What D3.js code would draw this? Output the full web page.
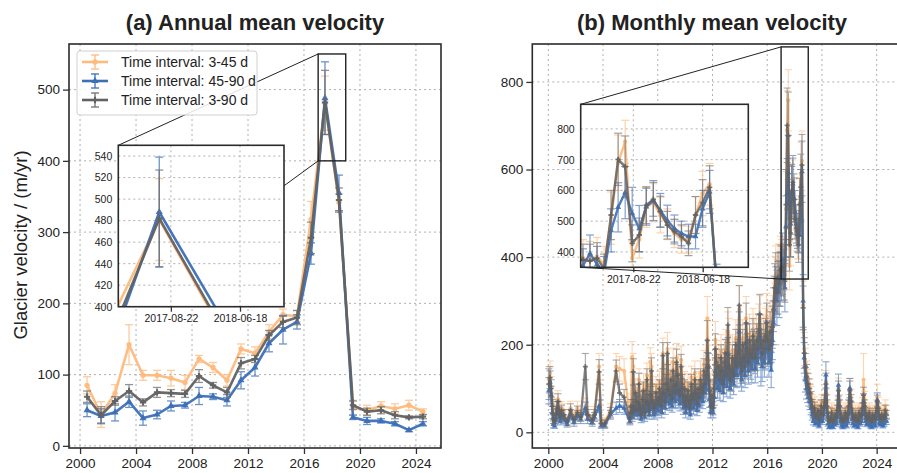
<!DOCTYPE html>
<html><head><meta charset="utf-8">
<script src="https://cdn.jsdelivr.net/npm/d3@7"></script>
<style>
body{margin:0;background:#fff}
svg{display:block}
text{font-family:"Liberation Sans",Arial,sans-serif;fill:#222}
</style></head>
<body><svg id="c" width="897" height="473"></svg>
<script>
// ---------- DATA ----------
const seriesNames = ["Time interval: 3-45 d","Time interval: 45-90 d","Time interval: 3-90 d"];
const xTickYears = [2000,2004,2008,2012,2016,2020,2024];
const yTicksAnnual = [0,100,200,300,400,500];
const yTicksMonthly = [0,200,400,600,800];
const insetAYTicks = [400,420,440,460,480,500,520,540];
const insetBYTicks = [400,500,600,700,800];
const insetXTickLabels = ["2017-08-22","2018-06-18"];
const insetXTickYears = [2017.638, 2018.460];

const annualYears = [2000.5,2001.5,2002.5,2003.5,2004.5,2005.5,2006.5,2007.5,2008.5,2009.5,2010.5,2011.5,2012.5,2013.5,2014.5,2015.5,2016.5,2017.5,2018.5,2019.5,2020.5,2021.5,2022.5,2023.5,2024.5];
const annual345  = [85,44,74,142,99,99,95,89,122,110,92,136,130,160,184,182,318,481,342,54,50,56,52,57,48];
const annual4590 = [50,42,47,62,39,44,56,57,70,69,64,92,110,144,163,174,270,488,355,40,35,35,31,22,31];
const annual390  = [69,43,63,77,61,75,74,73,98,85,75,116,122,155,174,180,292,482,345,57,48,50,43,40,41];
const annualErr345  = [12,18,12,28,7,7,11,10,5,7,8,7,9,10,8,8,25,38,12,10,7,6,7,7,4];
const annualErr4590 = [9,10,12,8,10,6,7,4,12,4,8,12,12,12,20,10,15,51,25,3,5,3,3,2,3];
const annualErr390  = [8,12,6,9,5,7,5,5,9,4,7,8,5,7,8,10,22,45,17,6,5,5,5,2,3];

// monthly values, Jan 2000 ... Sep 2024 (null = no estimate that month)
const monthlyStartYear = 2000;
const monthly345 = [
 120,135,105,70,40,30,50,60,75,55,40,55,
 null,50,null,null,22,null,null,55,null,null,35,null,
 null,55,null,null,40,null,null,null,60,null,45,null,
 null,null,30,null,45,null,null,null,150,null,25,null,
 null,25,null,null,null,null,50,null,null,null,null,150,
 null,null,145,null,null,null,140,null,null,null,null,35,
 70,172,150,60,100,80,60,120,65,50,90,110,
 55,85,130,80,60,161,150,85,65,75,105,90,
 80,115,95,75,180,105,85,125,190,110,100,135,
 90,160,120,105,169,145,110,100,165,125,85,115,
 75,95,110,85,70,125,100,90,135,105,80,115,
 95,135,115,105,155,125,145,260,165,110,75,100,
 70,115,211,175,145,165,135,185,155,125,175,195,
 145,230,218,135,155,185,145,175,215,165,195,280,
 175,155,215,185,165,260,205,175,225,195,185,235,
 215,185,225,205,245,260,215,195,225,205,235,265,
 240,210,250,230,260,300,340,360,335,365,350,380,
 380,372,385,360,510,690,758,380,440,545,560,520,
 490,460,440,440,520,590,620,290,190,160,135,118,
 110,100,85,70,55,65,45,50,60,40,55,70,
 50,65,80,115,70,45,35,40,55,35,40,50,
 45,60,100,70,50,40,35,45,55,40,50,70,
 98,80,55,45,40,50,40,35,55,45,50,65,
 120,75,50,40,45,55,40,35,50,45,40,60,
 80,65,45,40,50,40,45,60,50
];
const monthly4590 = [
 95,115,85,45,18,15,30,45,55,35,25,40,
 null,30,null,null,18,null,null,40,null,null,22,null,
 null,38,null,null,30,null,null,null,55,null,30,null,
 null,null,22,null,35,null,null,null,60,null,15,null,
 null,15,null,null,null,null,40,null,null,null,null,55,
 null,null,60,null,null,null,55,null,null,null,null,25,
 45,35,60,40,55,50,40,65,45,30,50,60,
 35,50,70,50,40,60,75,55,40,45,65,55,
 50,75,60,45,90,70,55,80,100,70,65,85,
 60,95,80,70,110,95,75,65,100,85,55,80,
 45,60,75,55,40,85,65,55,90,70,50,80,
 60,90,80,70,105,90,100,150,120,75,45,65,
 45,80,140,125,100,120,95,140,115,90,130,150,
 105,180,125,100,120,145,110,135,170,130,155,230,
 135,120,170,145,130,205,160,140,180,155,145,190,
 170,145,180,160,195,220,170,150,180,160,185,210,
 190,160,200,142,210,250,300,320,300,330,320,350,
 355,395,360,330,470,545,593,525,476,547,567,535,
 502,476,460,450,450,540,595,300,170,120,100,90,
 80,70,55,40,25,35,20,22,30,15,25,40,
 25,40,60,131,45,20,12,15,30,12,18,25,
 20,35,108,45,25,15,12,20,30,15,25,45,
 101,55,30,20,15,25,18,12,30,20,25,40,
 70,45,25,18,20,30,15,12,25,20,15,30,
 74,40,20,18,25,15,20,35,25
];
const monthly390 = [
 110,125,100,60,30,25,40,55,70,45,35,50,
 null,40,null,null,25,null,null,50,null,null,30,null,
 null,45,null,null,35,null,null,null,150,null,40,null,
 null,null,28,null,40,null,null,null,138,null,20,null,
 null,20,null,null,null,null,45,null,null,null,null,140,
 null,null,90,null,null,null,80,null,null,null,null,30,
 60,45,138,50,90,70,50,110,55,40,75,95,
 45,70,120,65,50,85,140,70,55,60,90,75,
 65,100,80,60,175,90,70,110,180,95,85,120,
 75,140,105,90,160,130,95,85,150,110,70,100,
 60,80,95,70,55,110,85,75,120,90,65,100,
 80,120,100,90,140,110,130,210,150,95,60,85,
 55,100,190,160,130,150,120,170,140,110,160,180,
 130,245,150,120,140,170,130,160,200,150,180,290,
 160,140,200,170,150,250,190,160,210,180,170,220,
 200,170,210,190,230,270,200,180,210,190,220,250,
 210,190,230,200,240,280,330,350,320,355,340,370,
 375,370,380,345,520,701,677,428,455,552,571,531,
 487,466,450,428,520,560,610,284,181,150,127,110,
 100,90,75,60,45,55,35,40,50,30,45,60,
 40,55,70,110,60,35,25,30,45,25,30,40,
 35,50,95,60,40,30,25,35,45,30,40,60,
 95,70,45,35,30,40,30,25,45,35,40,55,
 85,60,40,30,35,45,30,25,40,35,30,45,
 70,55,35,30,40,30,35,50,40
];
const monthlyErr345 = [
 30,28,22,18,12,10,14,16,20,15,12,15,
 null,15,null,null,8,null,null,16,null,null,12,null,
 null,16,null,null,12,null,null,null,18,null,14,null,
 null,null,10,null,14,null,null,null,30,null,8,null,
 null,8,null,null,null,null,15,null,null,null,null,30,
 null,null,28,null,null,null,28,null,null,null,null,12,
 18,35,30,15,22,18,15,25,16,12,20,24,
 15,20,28,18,15,32,30,20,16,18,22,20,
 18,24,20,18,35,22,18,26,38,24,22,28,
 20,32,25,22,34,30,24,22,32,26,20,24,
 18,20,24,18,16,26,22,20,28,22,18,24,
 20,28,24,22,32,26,30,50,34,24,18,22,
 16,24,42,35,30,34,28,38,32,26,36,40,
 30,45,42,28,32,38,30,36,42,34,40,55,
 35,32,42,38,34,50,42,36,45,40,38,48,
 42,38,45,42,48,52,44,40,45,42,48,52,
 48,42,50,46,52,58,62,66,60,65,62,68,
 60,62,62,58,85,90,70,55,60,65,62,58,
 50,46,44,44,60,72,68,55,38,32,28,26,
 24,22,20,16,14,16,12,12,14,10,12,16,
 12,15,18,26,16,10,8,10,12,8,10,12,
 10,14,24,16,12,10,8,10,12,10,12,16,
 25,18,12,10,10,12,10,8,12,10,12,14,
 60,18,12,10,10,12,10,8,12,10,10,14,
 30,15,10,10,12,10,10,14,12
];
const monthlyErr4590 = [
 30,25,20,14,8,6,10,14,16,10,8,10,
 null,10,null,null,6,null,null,12,null,null,8,null,
 null,12,null,null,10,null,null,null,14,null,10,null,
 null,null,8,null,10,null,null,null,14,null,6,null,
 null,6,null,null,null,null,10,null,null,null,null,14,
 null,null,15,null,null,null,14,null,null,null,null,8,
 12,10,15,10,14,12,10,16,12,8,12,15,
 10,12,16,12,10,14,18,14,10,12,16,14,
 12,18,15,12,20,16,14,18,22,16,15,20,
 14,22,18,16,24,22,18,16,22,20,14,18,
 12,14,18,14,10,20,16,14,20,16,12,18,
 14,20,18,16,24,20,22,32,26,18,12,16,
 12,18,30,28,22,26,22,30,26,20,28,32,
 24,36,28,22,26,30,24,30,36,28,32,45,
 30,26,36,32,28,42,34,30,38,34,32,40,
 36,32,38,34,42,48,64,34,38,34,40,44,
 40,34,42,40,44,50,55,58,56,60,58,62,
 55,60,58,55,70,80,85,85,75,60,65,55,
 50,44,40,40,40,60,70,60,35,28,24,22,
 20,18,15,12,8,10,6,6,8,5,7,10,
 7,10,15,30,12,6,4,5,8,4,5,7,
 6,9,25,12,7,5,4,6,8,5,7,12,
 22,14,8,6,5,7,5,4,8,6,7,10,
 18,12,7,5,6,8,5,4,7,6,5,8,
 16,10,6,5,7,5,6,9,7
];
const monthlyErr390 = [
 35,25,20,15,10,8,12,15,18,12,10,12,
 null,12,null,null,8,null,null,15,null,null,10,null,
 null,15,null,null,10,null,null,null,30,null,12,null,
 null,null,10,null,12,null,null,null,28,null,8,null,
 null,8,null,null,null,null,12,null,null,null,null,25,
 null,null,20,null,null,null,18,null,null,null,null,10,
 15,12,30,12,20,15,12,25,15,10,18,20,
 12,18,25,15,12,20,30,18,15,15,20,18,
 15,20,18,15,30,20,15,22,25,20,18,22,
 18,30,22,20,30,25,20,18,28,22,15,20,
 15,18,20,15,12,22,18,15,25,20,15,20,
 18,25,20,18,28,22,25,45,30,20,15,18,
 15,20,35,30,25,28,22,30,25,20,30,32,
 25,40,30,25,28,30,25,30,35,28,32,45,
 30,28,35,30,28,45,35,30,38,32,30,40,
 35,30,38,35,40,45,35,32,38,35,40,45,
 40,35,45,40,48,50,55,60,50,55,52,58,
 50,55,50,48,80,85,100,60,55,60,55,50,
 45,40,38,40,60,75,70,50,35,30,28,25,
 22,20,18,15,12,14,10,10,12,8,10,14,
 10,12,15,25,14,8,6,8,10,6,8,10,
 8,12,22,14,10,8,6,8,10,8,10,14,
 22,16,10,8,8,10,8,6,10,8,10,12,
 18,14,10,8,8,10,8,6,10,8,8,10,
 15,12,8,8,10,8,8,12,10
];

// ---------- STYLE ----------
const colors = ["#fdbb7e", "#3c6fb7", "#626262"];
const errColors = ["#fdbb7e", "#3c6fb7", "#707070"];
const symbols = [d3.symbolCircle, d3.symbolTriangle, d3.symbolCross];

const svg = d3.select("#c");
const defs = svg.append("defs");

function toPoints(times, vals, errs){
  const out=[];
  for(let i=0;i<vals.length;i++){ if(vals[i]!=null) out.push({t:times[i], v:vals[i], e:errs[i]||0}); }
  return out;
}
const annualSeries = [
  toPoints(annualYears, annual345, annualErr345),
  toPoints(annualYears, annual4590, annualErr4590),
  toPoints(annualYears, annual390, annualErr390)
];
const monthlyTimes = monthly390.map((_,i)=> monthlyStartYear + (i+0.5)/12);
const monthlySeries = [
  toPoints(monthlyTimes, monthly345, monthlyErr345),
  toPoints(monthlyTimes, monthly4590, monthlyErr4590),
  toPoints(monthlyTimes, monthly390, monthlyErr390)
];

let clipId=0;
function clipRect(x0,y0,x1,y1){
  const id="clip"+(clipId++);
  defs.append("clipPath").attr("id",id).append("rect")
    .attr("x",x0).attr("y",y0).attr("width",x1-x0).attr("height",y1-y0);
  return "url(#"+id+")";
}

function drawSeries(g, x, y, data, k, opt){
  const s = g.append("g");
  const lo = opt.lo[k];
  const eb = s.append("g").attr("stroke", errColors[k]).attr("stroke-width", opt.ew).attr("opacity", opt.eo).attr("fill","none");
  data.forEach(d=>{
    const xx=x(d.t), y0=y(d.v-d.e), y1=y(d.v+d.e);
    eb.append("line").attr("x1",xx).attr("x2",xx).attr("y1",y0).attr("y2",y1);
    eb.append("line").attr("x1",xx-opt.cap).attr("x2",xx+opt.cap).attr("y1",y0).attr("y2",y0);
    eb.append("line").attr("x1",xx-opt.cap).attr("x2",xx+opt.cap).attr("y1",y1).attr("y2",y1);
  });
  s.append("path").datum(data)
    .attr("d", d3.line().x(d=>x(d.t)).y(d=>y(d.v)))
    .attr("fill","none").attr("stroke",colors[k]).attr("stroke-width",opt.lw)
    .attr("stroke-linejoin","round").attr("opacity",lo);
  const sym = d3.symbol().type(symbols[k]).size(opt.ms);
  s.selectAll(null).data(data).enter().append("path")
    .attr("d", sym).attr("transform", d=>`translate(${x(d.t)},${y(d.v)})`)
    .attr("fill", colors[k]).attr("opacity", lo);
}

function grid(g, x, y, xt, yt, x0,x1,y0,y1){
  const gg=g.append("g").attr("stroke","#b0b0b0").attr("stroke-width",1).attr("stroke-dasharray","2,3");
  xt.forEach(t=>gg.append("line").attr("x1",x(t)).attr("x2",x(t)).attr("y1",y0).attr("y2",y1));
  yt.forEach(v=>gg.append("line").attr("x1",x0).attr("x2",x1).attr("y1",y(v)).attr("y2",y(v)));
}

function styleAxis(a, fs){
  a.select(".domain").remove();
  a.selectAll("line").attr("stroke","#333").attr("stroke-width",1.3);
  a.selectAll("text").attr("font-size",fs).attr("fill","#222").style("font-family",'"Liberation Sans",Arial,sans-serif');
}

function mainPanel(cfg){
  const {x0,x1,y0,y1,x,y,series,yTicks,opt,title,titleX} = cfg;
  const g = svg.append("g");
  grid(g,x,y,xTickYears,yTicks,x0,x1,y0,y1);
  const plot = g.append("g").attr("clip-path", clipRect(x0,y0,x1,y1));
  series.forEach((d,k)=>drawSeries(plot,x,y,d,k,opt));
  const ax = g.append("g").attr("transform",`translate(0,${y1})`)
    .call(d3.axisBottom(x).tickValues(xTickYears).tickFormat(d3.format("d")).tickSize(6).tickPadding(4));
  const ay = g.append("g").attr("transform",`translate(${x0},0)`)
    .call(d3.axisLeft(y).tickValues(yTicks).tickSize(6).tickPadding(3));
  styleAxis(ax,13.5); styleAxis(ay,13.5);
  g.append("rect").attr("x",x0).attr("y",y0).attr("width",x1-x0).attr("height",y1-y0)
    .attr("fill","none").attr("stroke","#2b2b2b").attr("stroke-width",1.6);
  svg.append("text").attr("x",titleX).attr("y",30).attr("text-anchor","middle")
    .attr("font-size",22).attr("font-weight","bold").text(title);
  return g;
}

function inset(cfg){
  const {bx0,bx1,by0,by1,xd,yd,x,y,series,yTicks,opt} = cfg;
  const g = svg.append("g");
  const xi = d3.scaleLinear().domain(xd).range([bx0,bx1]);
  const yi = d3.scaleLinear().domain(yd).range([by1,by0]);
  const rx0=x(xd[0]), rx1=x(xd[1]), ry0=y(yd[1]), ry1=y(yd[0]);
  g.append("rect").attr("x",rx0).attr("y",ry0).attr("width",rx1-rx0).attr("height",ry1-ry0)
    .attr("fill","none").attr("stroke","#222").attr("stroke-width",1.4);
  g.append("line").attr("x1",bx0).attr("y1",by0).attr("x2",rx0).attr("y2",ry0).attr("stroke","#222").attr("stroke-width",1);
  g.append("line").attr("x1",bx0).attr("y1",by1).attr("x2",rx0).attr("y2",ry1).attr("stroke","#222").attr("stroke-width",1);
  g.append("rect").attr("x",bx0).attr("y",by0).attr("width",bx1-bx0).attr("height",by1-by0).attr("fill","#fff");
  grid(g,xi,yi,insetXTickYears,yTicks,bx0,bx1,by0,by1);
  const plot = g.append("g").attr("clip-path", clipRect(bx0,by0,bx1,by1));
  series.forEach((d,k)=>drawSeries(plot,xi,yi,d,k,opt));
  const ax = g.append("g").attr("transform",`translate(0,${by1})`)
    .call(d3.axisBottom(xi).tickValues(insetXTickYears).tickFormat((d,i)=>insetXTickLabels[i]).tickSize(5).tickPadding(3));
  const ay = g.append("g").attr("transform",`translate(${bx0},0)`)
    .call(d3.axisLeft(yi).tickValues(yTicks).tickSize(0).tickPadding(6));
  styleAxis(ax,10.5); styleAxis(ay,10.5);
  g.append("rect").attr("x",bx0).attr("y",by0).attr("width",bx1-bx0).attr("height",by1-by0)
    .attr("fill","none").attr("stroke","#2b2b2b").attr("stroke-width",1.6);
}

// ---------- PANEL (a) ----------
const xA = d3.scaleLinear().domain([1999.21, 2025.79]).range([69, 441]);
const yA = d3.scaleLinear().domain([-3, 564]).range([448, 44]);
const annOpt = {lw:2.6, lo:[0.95,0.95,0.95], ew:1.3, eo:0.75, cap:4, ms:22};
mainPanel({x0:69,x1:441,y0:44,y1:448,x:xA,y:yA,series:annualSeries,yTicks:yTicksAnnual,opt:annOpt,
  title:"(a) Annual mean velocity", titleX:255});
svg.append("text").attr("transform","translate(27,245) rotate(-90)").attr("text-anchor","middle")
  .attr("font-size",18.5).text("Glacier velocity / (m/yr)");
inset({bx0:118.3,bx1:284,by0:145.3,by1:306.7,xd:[2017.013,2018.983],yd:[400,550],x:xA,y:yA,
  series:annualSeries,yTicks:insetAYTicks,opt:annOpt});

// legend
const lg = svg.append("g");
lg.append("rect").attr("x",77).attr("y",51).attr("width",180).attr("height",64).attr("rx",3)
  .attr("fill","#fff").attr("fill-opacity",0.85).attr("stroke","#d0d0d0").attr("stroke-width",1);
seriesNames.forEach((n,k)=>{
  const yy = 62 + k*19;
  lg.append("line").attr("x1",82).attr("x2",108).attr("y1",yy).attr("y2",yy).attr("stroke",colors[k]).attr("stroke-width",2.6);
  const e = lg.append("g").attr("stroke",errColors[k]).attr("stroke-width",1.3);
  e.append("line").attr("x1",95).attr("x2",95).attr("y1",yy-7).attr("y2",yy+7);
  e.append("line").attr("x1",91).attr("x2",99).attr("y1",yy-7).attr("y2",yy-7);
  e.append("line").attr("x1",91).attr("x2",99).attr("y1",yy+7).attr("y2",yy+7);
  lg.append("path").attr("d",d3.symbol().type(symbols[k]).size(22)()).attr("transform",`translate(95,${yy})`).attr("fill",colors[k]);
  lg.append("text").attr("x",121).attr("y",yy+5).attr("font-size",14).text(n);
});

// ---------- PANEL (b) ----------
const xB = d3.scaleLinear().domain([1998.83, 2025.56]).range([532.3, 898]);
const yB = d3.scaleLinear().domain([-35.8, 886.6]).range([448, 44]);
const monOpt = {lw:2.3, lo:[0.95,0.9,0.8], ew:1.1, eo:0.6, cap:3.5, ms:14};
mainPanel({x0:532.3,x1:899,y0:44,y1:448,x:xB,y:yB,series:monthlySeries,yTicks:yTicksMonthly,opt:monOpt,
  title:"(b) Monthly mean velocity", titleX:712});
inset({bx0:580.7,bx1:748.3,by0:104.3,by1:267.3,xd:[2017.015,2019.0],yd:[350,880],x:xB,y:yB,
  series:monthlySeries,yTicks:insetBYTicks,opt:{lw:2.4,lo:[0.95,0.9,0.85],ew:1.2,eo:0.65,cap:4,ms:16}});
</script></body></html>
